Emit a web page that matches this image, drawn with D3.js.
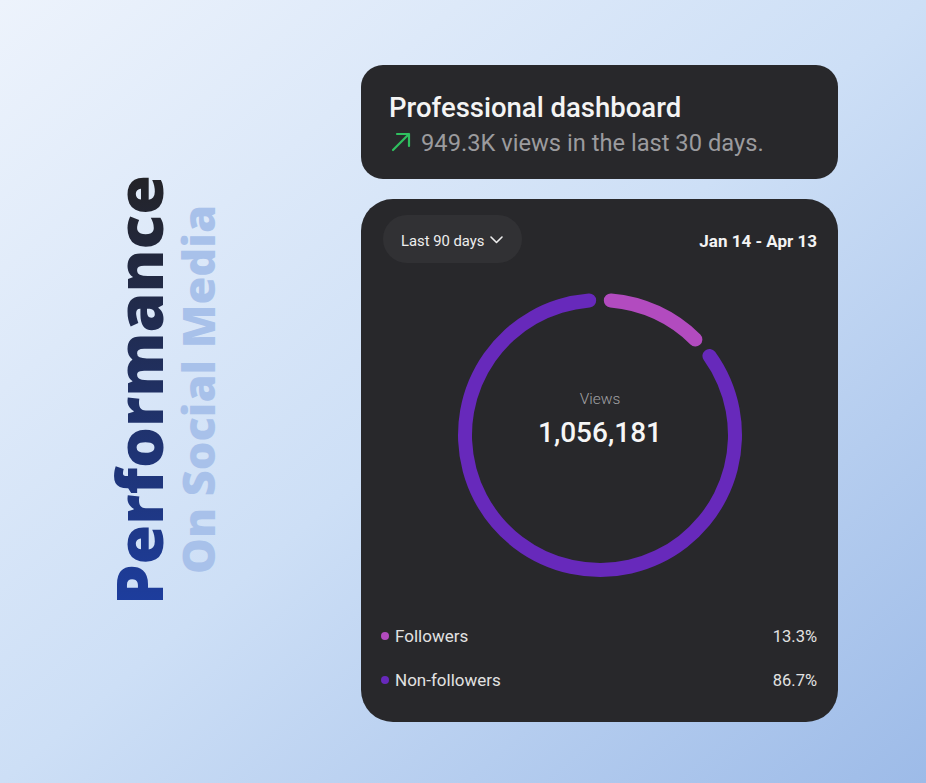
<!DOCTYPE html>
<html><head><meta charset="utf-8">
<script src="https://cdn.jsdelivr.net/npm/d3@7"></script>
<style>html,body{margin:0;padding:0;overflow:hidden;}svg{display:block;}</style>
</head><body>
<script>
const categories = ["Followers", "Non-followers"];
const shares = [13.3, 86.7];
const shareLabels = ["13.3%", "86.7%"];
const totalViews = "1,056,181";
const colors = ["#b24bbf", "#6729bb"];

const W = 926, H = 783;
const svg = d3.select("body").append("svg").attr("width", W).attr("height", H);
const defs = svg.append("defs");
const bg = defs.append("linearGradient").attr("id","bg").attr("x1","0").attr("y1","0").attr("x2","1").attr("y2","1");
bg.append("stop").attr("offset","0").attr("stop-color","#edf3fc");
bg.append("stop").attr("offset","0.5").attr("stop-color","#cddff6");
bg.append("stop").attr("offset","1").attr("stop-color","#9dbbe8");
svg.append("rect").attr("width",W).attr("height",H).attr("fill","url(#bg)");

const tg = defs.append("linearGradient").attr("id","tg").attr("x1","0").attr("y1","0").attr("x2","1").attr("y2","0");
tg.append("stop").attr("offset","0").attr("stop-color","#1d3d9e");
tg.append("stop").attr("offset","1").attr("stop-color","#232327");

// vertical titles
svg.append("text").attr("transform","translate(163,605) rotate(-90)")
  .attr("font-family","'Open Sans', sans-serif").attr("font-weight",800).attr("font-size",64)
  .attr("textLength",430).attr("lengthAdjust","spacingAndGlyphs")
  .attr("fill","url(#tg)").text("Performance");
svg.append("text").attr("transform","translate(215,574) rotate(-90)")
  .attr("font-family","'Open Sans', sans-serif").attr("font-weight",800).attr("font-size",44)
  .attr("textLength",369).attr("lengthAdjust","spacingAndGlyphs")
  .attr("fill","#a8c1ea").text("On Social Media");

const font = "Roboto, 'Noto Sans', sans-serif";
// card 1
svg.append("rect").attr("x",361).attr("y",65).attr("width",477).attr("height",114).attr("rx",22).attr("fill","#28282b");
svg.append("text").attr("x",389).attr("y",117).attr("font-family",font).attr("font-size",27.5).attr("font-weight",500)
  .attr("fill","#f4f4f4").text("Professional dashboard");
svg.append("path").attr("d","M393,150 L409,134 M397,134 L409,134 L409,146").attr("stroke","#2fbf5f")
  .attr("stroke-width",2.2).attr("fill","none").attr("stroke-linecap","round").attr("stroke-linejoin","round");
svg.append("text").attr("x",421).attr("y",151).attr("font-family",font).attr("font-size",23.7)
  .attr("fill","#9b9b9e").text("949.3K views in the last 30 days.");

// card 2
svg.append("rect").attr("x",361).attr("y",199).attr("width",477).attr("height",523).attr("rx",32).attr("fill","#28282b");
svg.append("rect").attr("x",383).attr("y",215).attr("width",139).attr("height",48).attr("rx",24).attr("fill","#313134");
svg.append("text").attr("x",401).attr("y",246).attr("font-family",font).attr("font-size",14.8).attr("font-weight",400)
  .attr("fill","#eeeeee").text("Last 90 days");
svg.append("path").attr("d","M491,237 L496.5,242.5 L502,237").attr("stroke","#eeeeee").attr("stroke-width",1.6)
  .attr("fill","none").attr("stroke-linecap","round").attr("stroke-linejoin","round");
svg.append("text").attr("x",817).attr("y",247).attr("text-anchor","end").attr("font-family",font).attr("font-size",17)
  .attr("font-weight",700).attr("fill","#f4f4f4").text("Jan 14 - Apr 13");

// donut
const cx = 600, cy = 435;
const pie = d3.pie().sort(null).padAngle(0.04).value(d => d);
const arc = d3.arc().innerRadius(128).outerRadius(142).cornerRadius(7);
svg.append("g").attr("transform",`translate(${cx},${cy})`)
  .selectAll("path").data(pie(shares)).join("path")
  .attr("d", arc).attr("fill",(d,i)=>colors[i]);
svg.append("text").attr("x",cx).attr("y",404).attr("text-anchor","middle").attr("font-family",font).attr("font-size",15.5)
  .attr("font-weight",300).attr("fill","#a0a0a3").text("Views");
svg.append("text").attr("x",cx).attr("y",442).attr("text-anchor","middle").attr("font-family",font).attr("font-size",28)
  .attr("font-weight",500).attr("fill","#f6f6f6").text(totalViews);

// legend
const ly = d3.scalePoint().domain(categories).range([636, 680]);
const lg = svg.append("g").selectAll("g").data(categories).join("g").attr("transform",d=>`translate(0,${ly(d)})`);
lg.append("circle").attr("cx",385).attr("cy",0).attr("r",4).attr("fill",(d,i)=>colors[i]);
lg.append("text").attr("x",395).attr("y",6).attr("font-family",font).attr("font-size",17).attr("fill","#e2e2e2").text(d=>d);
lg.append("text").attr("x",817).attr("y",6).attr("text-anchor","end").attr("font-family",font).attr("font-size",16.5)
  .attr("fill","#e2e2e2").text((d,i)=>shareLabels[i]);
</script>
</body></html>
